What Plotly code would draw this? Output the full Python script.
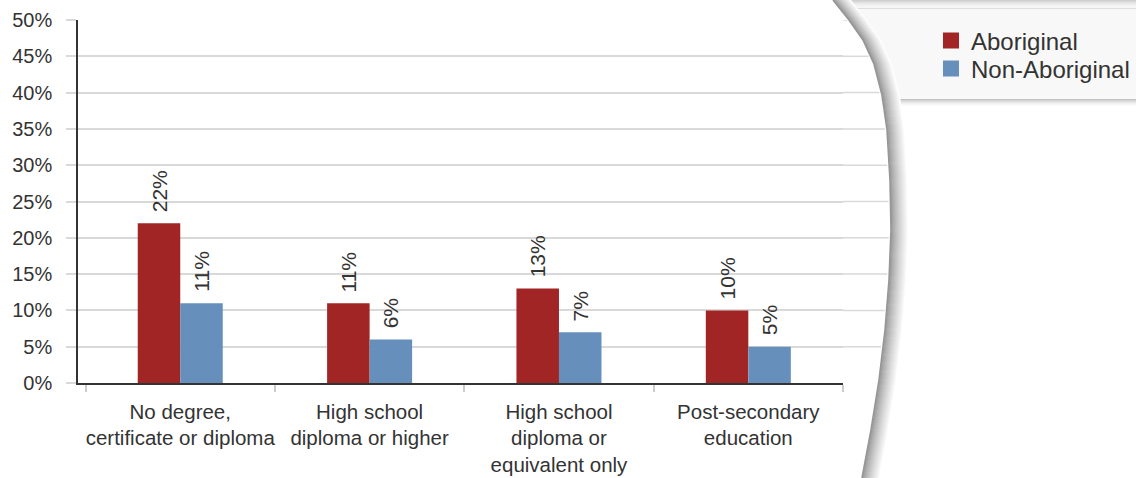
import plotly.graph_objects as go

# ---- data -------------------------------------------------------------
categories = [
    "No degree,<br>certificate or diploma",
    "High school<br>diploma or higher",
    "High school<br>diploma or<br>equivalent only",
    "Post-secondary<br>education",
]
aboriginal = [22, 11, 13, 10]
non_aboriginal = [11, 6, 7, 5]
series_names = ["Aboriginal", "Non-Aboriginal"]
y_ticks = [0, 5, 10, 15, 20, 25, 30, 35, 40, 45, 50]

RED = "#a22525"
BLUE = "#6690bb"
TEXT = "#333333"
FONT = "Liberation Sans, Arial, sans-serif"

# ---- figure geometry (pixels) -----------------------------------------
W, H = 1136, 478
L, R, T, B = 78, 293, 20, 95
PW, PH = W - L - R, H - T - B
X_RANGE = [-0.54, 3.5]
BARGAP = 0.551


def px(x):
    return (x - L) / PW


def py(y):
    return (H - B - y) / PH


# right-hand page edge (curved), in pixels
edge = [(832, 0), (848, 20), (862, 40), (873, 64), (881, 95), (886, 130),
        (889, 180), (890, 230), (888, 280), (884, 330), (878, 380),
        (870, 430), (861, 478)]


def edge_x(y):
    for (x0, y0), (x1, y1) in zip(edge[:-1], edge[1:]):
        if y0 <= y <= y1:
            return x0 + (x1 - x0) * (y - y0) / (y1 - y0)
    return edge[-1][0]


def path(points):
    return "M " + " L ".join(f"{px(x):.5f},{py(y):.5f}" for x, y in points)


fig = go.Figure()

fig.add_trace(go.Bar(name=series_names[0], x=categories, y=aboriginal,
                     marker=dict(color=RED, line=dict(width=0)),
                     showlegend=False))
fig.add_trace(go.Bar(name=series_names[1], x=categories, y=non_aboriginal,
                     marker=dict(color=BLUE, line=dict(width=0)),
                     showlegend=False))

# legend entries with large square swatches
for name, color, lg in [(series_names[0], RED, "legend"),
                        (series_names[1], BLUE, "legend2")]:
    fig.add_trace(go.Scatter(x=[None], y=[None], mode="markers", name=name,
                             marker=dict(symbol="square", size=18, color=color),
                             legend=lg, showlegend=True))

# rotated value labels above each bar
cat_w = PW / (X_RANGE[1] - X_RANGE[0])
bar_w = cat_w * (1 - BARGAP) / 2
annotations = []
for vals, shift in [(aboriginal, -bar_w / 2), (non_aboriginal, bar_w / 2)]:
    for c, v in zip(categories, vals):
        annotations.append(dict(
            x=c, y=v, xref="x", yref="y", text=f"{v}%", showarrow=False,
            textangle=-90, xanchor="center", yanchor="bottom",
            xshift=shift, yshift=9,
            font=dict(family=FONT, size=21, color=TEXT)))

shapes = []
# legend panel behind the page
shapes.append(dict(type="rect", xref="paper", yref="paper", layer="below",
                   x0=px(840), x1=px(W), y0=py(99), y1=py(9),
                   fillcolor="#f8f8f8", line=dict(width=0)))
for i, col in enumerate(["#cfcfcf", "#d8d8d8", "#e0e0e0", "#e8e8e8",
                         "#eeeeee", "#f2f2f2", "#f4f4f4", "#f6f6f6", "#dedede"]):
    shapes.append(dict(type="rect", xref="paper", yref="paper", layer="below",
                       x0=px(840), x1=px(W), y0=py(i + 1), y1=py(i),
                       fillcolor=col, line=dict(width=0)))
for i, col in enumerate(["#c4c4c4", "#d2d2d2", "#dedede", "#e8e8e8",
                         "#f0f0f0", "#f6f6f6", "#fbfbfb"]):
    shapes.append(dict(type="rect", xref="paper", yref="paper", layer="below",
                       x0=px(840), x1=px(W), y0=py(99 + i + 1), y1=py(99 + i),
                       fillcolor=col, line=dict(width=0)))

# white page with its curved right edge
page = [(0, 0)] + edge + [(0, H)]
shapes.append(dict(type="path", xref="paper", yref="paper", layer="below",
                   path=path(page) + " Z", fillcolor="white",
                   line=dict(width=0)))

# gridlines continue past the axis up to the page edge
for v in y_ticks[1:]:
    yp = (H - B) - v * PH / 50
    shapes.append(dict(type="line", xref="paper", yref="y", layer="below",
                       x0=1, x1=px(edge_x(yp) - 1), y0=v, y1=v,
                       line=dict(color="#d9d9d9", width=1.5)))

# soft shadow along the page edge
n = 18
for k in reversed(range(n)):
    t = k / (n - 1)
    g = int(150 + (255 - 150) * t ** 0.8)
    col = f"rgb({g},{g},{g})"
    shapes.append(dict(type="path", xref="paper", yref="paper", layer="above",
                       path=path([(x + k + 1, y) for x, y in edge]),
                       line=dict(color=col, width=1.6)))

fig.update_layout(
    width=W, height=H,
    margin=dict(l=L, r=R, t=T, b=B, pad=0, autoexpand=False),
    paper_bgcolor="white", plot_bgcolor="rgba(0,0,0,0)",
    barmode="group", bargap=BARGAP, bargroupgap=0,
    font=dict(family=FONT, color=TEXT),
    annotations=annotations, shapes=shapes,
    legend=dict(x=px(931), y=py(41), xanchor="left", yanchor="middle",
                bgcolor="rgba(0,0,0,0)", font=dict(size=24, color=TEXT, family=FONT)),
    legend2=dict(x=px(931), y=py(69), xanchor="left", yanchor="middle",
                 bgcolor="rgba(0,0,0,0)", font=dict(size=24, color=TEXT, family=FONT)),
    xaxis=dict(type="category", range=X_RANGE, tickson="boundaries",
               ticks="outside", ticklen=7, tickcolor="#cccccc", tickwidth=1.5,
               showline=True, linecolor="#333333", linewidth=2,
               showgrid=False, zeroline=False, tickangle=0, automargin=False,
               ticklabelstandoff=9,
               tickfont=dict(size=20.5, color=TEXT, family=FONT)),
    yaxis=dict(range=[0, 50], tickvals=y_ticks,
               ticktext=[f"{v}%" for v in y_ticks],
               ticks="outside", ticklen=10, tickcolor="#d9d9d9", tickwidth=1.5,
               showgrid=True, gridcolor="#d9d9d9", gridwidth=1.5,
               showline=True, linecolor="#333333", linewidth=1.5,
               zeroline=False, ticklabelstandoff=10, automargin=False,
               tickfont=dict(size=20, color=TEXT, family=FONT)),
)

fig.write_html("out.html")
